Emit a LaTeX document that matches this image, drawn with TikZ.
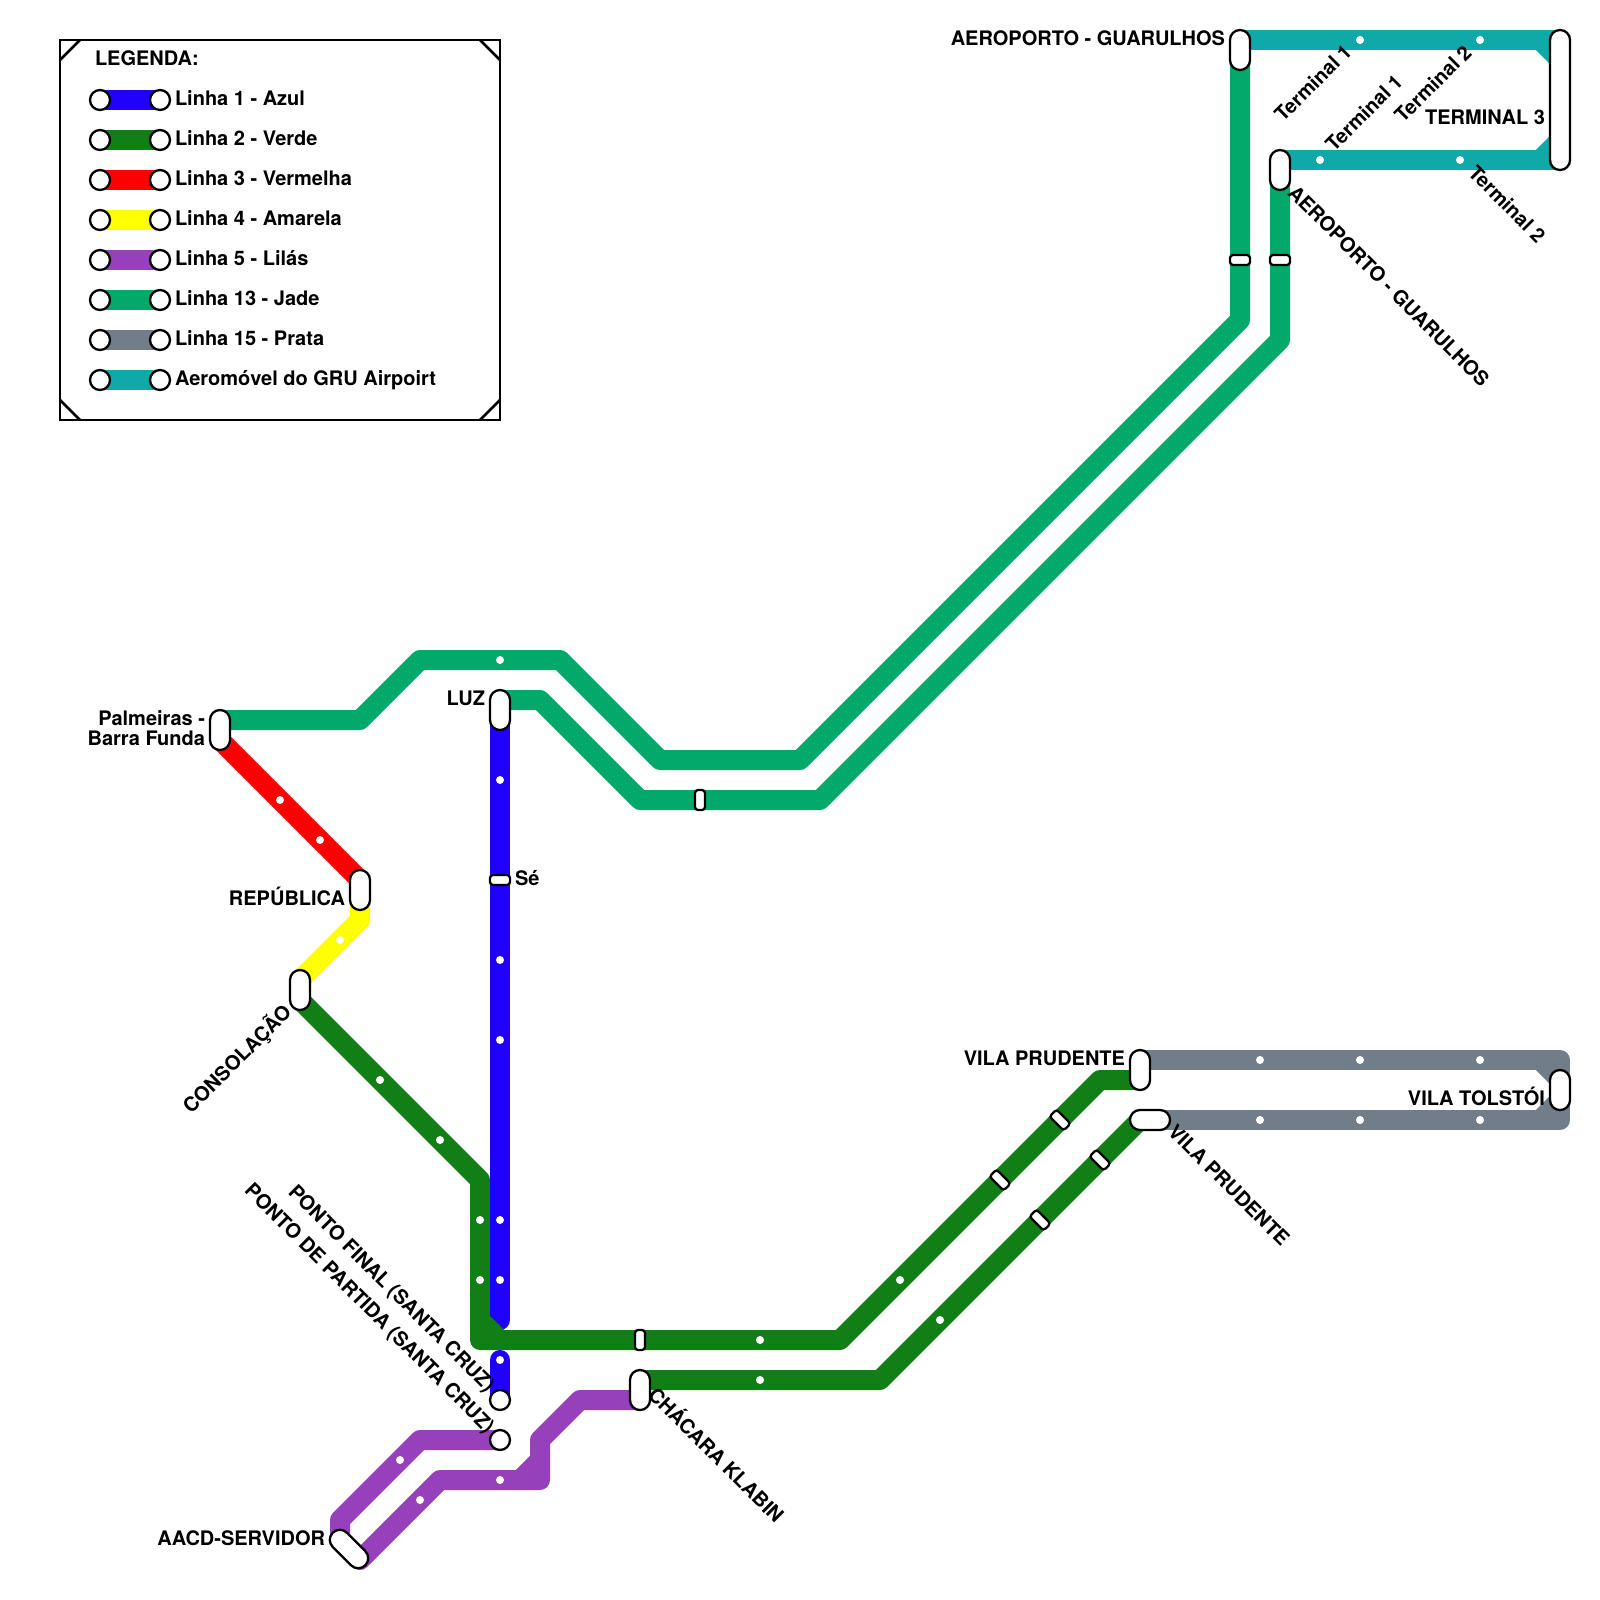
\documentclass[tikz,border=0pt]{standalone}
\usepackage{fontspec}
\setmainfont{TeX Gyre Heros}
\usetikzlibrary{backgrounds}
\definecolor{cazul}{HTML}{1F00FF}
\definecolor{cverde}{HTML}{127F16}
\definecolor{cverm}{HTML}{FF0000}
\definecolor{camar}{HTML}{FFFF00}
\definecolor{clilas}{HTML}{9740BB}
\definecolor{cjade}{HTML}{02A96B}
\definecolor{cprata}{HTML}{717D89}
\definecolor{caero}{HTML}{10A9AA}
\tikzset{
  metro/.style={line width=20pt,line join=round,line cap=butt},
  metrocap/.style={metro,line cap=round},
  pillbase/.style={draw=black,fill=white,line width=2.3pt,inner sep=0pt,outer sep=0pt,rectangle,rounded corners=9.9pt},
  pillv/.style={pillbase,minimum width=20pt,minimum height=40pt},
  pillh/.style={pillbase,minimum width=40pt,minimum height=20pt},
  pilllong/.style={pillbase,minimum width=20pt,minimum height=140pt},
  pilldiag/.style={pillbase,minimum width=46pt,minimum height=20pt,rotate=-45},
  xferv/.style={pillbase,rounded corners=3pt,minimum width=10pt,minimum height=20pt},
  xferh/.style={pillbase,rounded corners=3pt,minimum width=20pt,minimum height=10pt},
  xferd/.style={xferh,rotate=-45},
  term/.style={circle,draw=black,fill=white,line width=2.3pt,inner sep=0pt,outer sep=0pt,minimum size=20pt},
  stopdot/.style={circle,fill=white,inner sep=0pt,outer sep=0pt,minimum size=8pt},
  lbl/.style={font=\fontsize{20}{20}\selectfont\bfseries,inner sep=0pt,outer sep=0pt,text height=14.4pt,text depth=0pt},
  lblmulti/.style={font=\fontsize{20}{20}\selectfont\bfseries,inner sep=0pt,outer sep=0pt,align=right},
  legframe/.style={draw=black,line width=2.5pt,inner sep=0pt,outer sep=0pt},
}
\begin{document}
\begin{tikzpicture}[x=1pt,y=-1pt]
\useasboundingbox (0,0) rectangle (1600,1600);
% legend frame
\node[legframe,minimum width=440pt,minimum height=380pt] (legend) at (280,230) {};
\draw[line width=2.5pt] ([yshift=-20pt]legend.north west) -- ([xshift=20pt]legend.north west);
\draw[line width=2.5pt] ([yshift=-20pt]legend.north east) -- ([xshift=-20pt]legend.north east);
\draw[line width=2.5pt] ([yshift=20pt]legend.south west) -- ([xshift=20pt]legend.south west);
\draw[line width=2.5pt] ([yshift=20pt]legend.south east) -- ([xshift=-20pt]legend.south east);
\node[lbl,anchor=west] (legtitle) at (95,58) {LEGENDA:};
\foreach \n/\c/\t [count=\i] in {a/cazul/Linha 1 - Azul,b/cverde/Linha 2 - Verde,c/cverm/Linha 3 - Vermelha,d/camar/Linha 4 - Amarela,e/clilas/Linha 5 - Lilás,f/cjade/Linha 13 - Jade,g/cprata/Linha 15 - Prata,h/caero/Aeromóvel do GRU Airpoirt}{
  \pgfmathsetmacro{\yy}{60+40*\i}
  \node[term] (l\n1) at (100,\yy) {};
  \node[term] (l\n2) at (160,\yy) {};
  \begin{scope}[on background layer]
    \draw[metro,draw=\c] (l\n1.center) -- (l\n2.center);
  \end{scope}
  \node[lbl,anchor=west] (lt\n) at (175,\yy-2) {\t};
}
% stations
\node[pillv] (palmeiras) at (220,730) {};
\node[pillv] (republica) at (360,890) {};
\node[pillv] (consolacao) at (300,990) {};
\node[pillv] (luz) at (500,710) {};
\node[xferh] (se) at (500,880) {};
\node[term] (pfinal) at (500,1400) {};
\node[term] (ppartida) at (500,1440) {};
\node[pillv] (klabin) at (640,1390) {};
\node[pilldiag] (aacd) at (349,1549) {};
\node[pillv] (prudA) at (1140,1070) {};
\node[pillh] (prudB) at (1150,1120) {};
\node[pillv] (tolstoi) at (1560,1090) {};
\node[pillv] (aeroA) at (1240,50) {};
\node[pillv] (aeroB) at (1280,170) {};
\node[pilllong] (term3) at (1560,100) {};
\node[xferh] (xj1) at (1240,260) {};
\node[xferh] (xj2) at (1280,260) {};
\node[xferv] (xj3) at (700,800) {};
\node[xferv] (xg1) at (640,1340) {};
\node[xferd] (xg2) at (1060,1120) {};
\node[xferd] (xg3) at (1000,1180) {};
\node[xferd] (xg4) at (1100,1160) {};
\node[xferd] (xg5) at (1040,1220) {};
\foreach \x/\y [count=\i] in {500/660,500/780,500/960,500/1040,500/1220,500/1280,500/1360,280/800,320/840,340/940,380/1080,440/1140,480/1220,480/1280,760/1340,760/1380,900/1280,940/1320,1260/1060,1360/1060,1480/1060,1260/1120,1360/1120,1480/1120,1360/40,1480/40,1320/160,1460/160,400/1460,420/1500,500/1480}{
  \node[stopdot] (dot\i) at (\x,\y) {};
}
% lines
\begin{scope}[on background layer]
  \draw[metro,draw=cjade] (palmeiras.center) -- (220,720) -- (360,720) -- (420,660) -- (560,660) -- (660,760) -- (800,760) -- (1240,320) -- (aeroA.center);
  \draw[metro,draw=cjade] (luz.center) -- (500,700) -- (540,700) -- (640,800) -- (820,800) -- (1280,340) -- (aeroB.center);
  \draw[metro,draw=cverm] (palmeiras.center) -- (220,740) -- (360,880) -- (republica.center);
  \draw[metro,draw=camar] (republica.center) -- (360,920) -- (300,980) -- (consolacao.center);
  \draw[metro,draw=cverde] (consolacao.center) -- (300,1000) -- (480,1180) -- (480,1340) -- (840,1340) -- (1100,1080) -- (1140,1080) -- (prudA.center);
  \draw[metro,draw=cverde] (klabin.center) -- (640,1380) -- (880,1380) -- (1140,1120) -- (prudB.center);
  \draw[metrocap,draw=cazul] (luz.center) -- (500,1320);
  \draw[metro,draw=cverde] (480,1320) -- (500,1340);
  \draw[metrocap,draw=cazul] (500,1360) -- (pfinal.center);
  \draw[metro,draw=clilas] (ppartida.center) -- (420,1440) -- (340,1520) -- (340,1540) -- (aacd.center);
  \draw[metro,draw=clilas] (aacd.center) -- (360,1560) -- (440,1480) -- (540,1480) -- (540,1440) -- (580,1400) -- (640,1400) -- (klabin.center);
  \draw[metro,draw=clilas] (520,1480) -- (540,1460);
  \draw[metro,draw=cprata] (prudA.center) -- (1140,1060) -- (1560,1060) -- (tolstoi.center);
  \draw[metro,draw=cprata] (tolstoi.center) -- (1560,1120) -- (prudB.center);
  \draw[metro,draw=cprata] (1540,1060) -- (1560,1080);
  \draw[metro,draw=cprata] (1540,1120) -- (1560,1100);
  \draw[metro,draw=caero] (aeroA.center) -- (1240,40) -- (1560,40) -- (term3.center);
  \draw[metro,draw=caero] (term3.center) -- (1560,160) -- (1280,160) -- (aeroB.center);
  \draw[metro,draw=caero] (1540,40) -- (1560,60);
  \draw[metro,draw=caero] (1540,160) -- (1560,140);
\end{scope}
% labels
\node[lbl,anchor=east] (tAeroA) at (1225,38) {AEROPORTO - GUARULHOS};
\node[lbl,rotate=-45] (tAeroB) at (1389,286) {AEROPORTO - GUARULHOS};
\node[lbl,rotate=45] (tT1a) at (1313,83) {Terminal 1};
\node[lbl,rotate=45] (tT1b) at (1364,113) {Terminal 1};
\node[lbl,rotate=45] (tT2a) at (1433,84) {Terminal 2};
\node[lbl,rotate=-45] (tT2b) at (1507,204) {Terminal 2};
\node[lbl,anchor=east] (tT3) at (1545,117) {TERMINAL 3};
\node[lbl,anchor=east] (tPrudA) at (1125,1058) {VILA PRUDENTE};
\node[lbl,rotate=-45] (tPrudB) at (1229,1185) {VILA PRUDENTE};
\node[lbl,anchor=east] (tTol) at (1545,1098) {VILA TOLSTÓI};
\node[lblmulti,anchor=east] (tPal) at (205,728) {Palmeiras -\\Barra Funda};
\node[lbl,anchor=east] (tLuz) at (485,698) {LUZ};
\node[lbl,anchor=west] (tSe) at (515,878) {Sé};
\node[lbl,anchor=east] (tRep) at (345,898) {REPÚBLICA};
\node[lbl,rotate=45] (tCons) at (237,1059) {CONSOLAÇÃO};
\node[lbl,rotate=-45] (tPF) at (392,1288) {PONTO FINAL (SANTA CRUZ)};
\node[lbl,rotate=-45] (tPP) at (370,1308) {PONTO DE PARTIDA (SANTA CRUZ)};
\node[lbl,rotate=-45] (tKl) at (716,1455) {CHÁCARA KLABIN};
\node[lbl,anchor=east] (tAacd) at (325,1538) {AACD-SERVIDOR};
\end{tikzpicture}
\end{document}
